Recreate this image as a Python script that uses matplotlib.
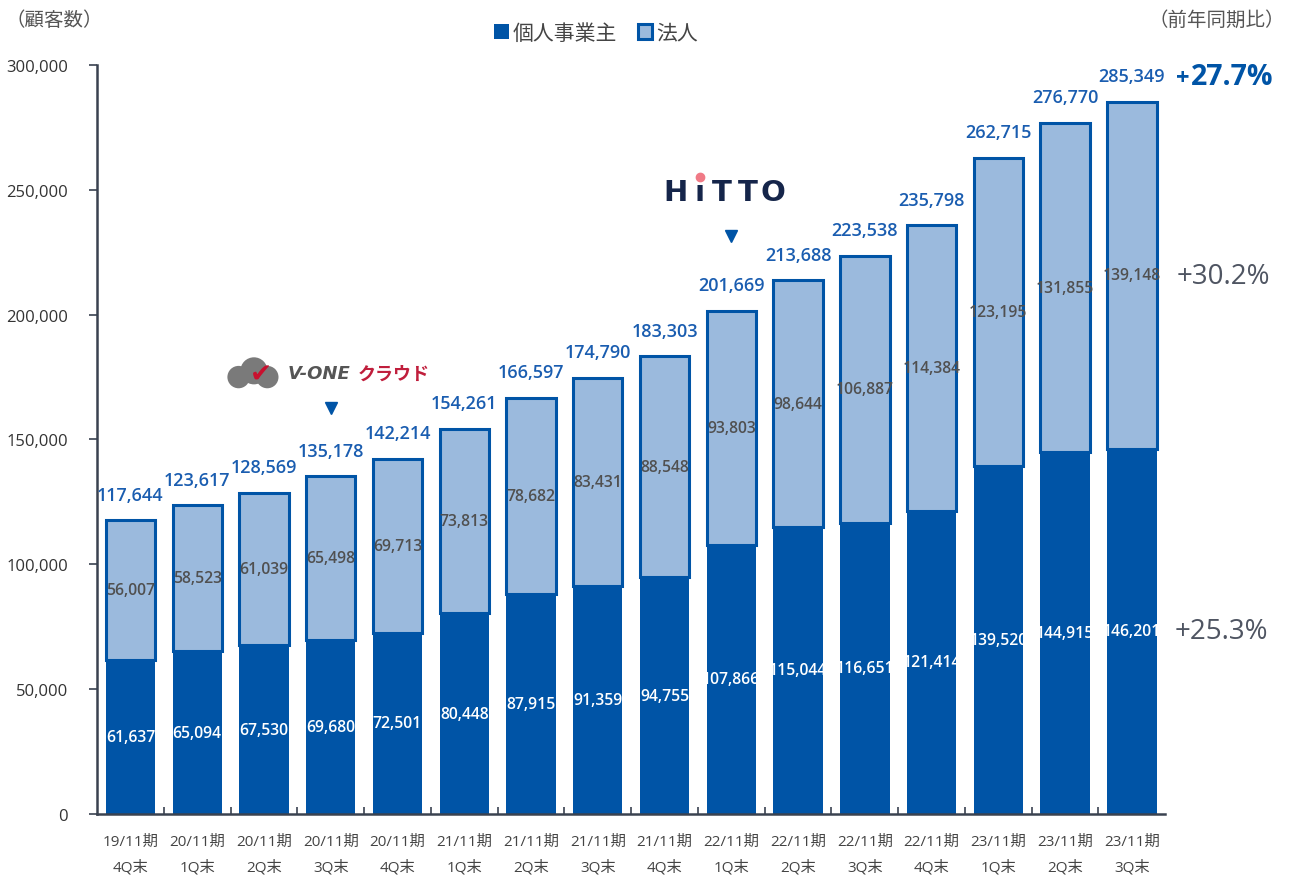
import matplotlib
matplotlib.use('Agg')
import matplotlib.pyplot as plt
import numpy as np

plt.rcParams['font.family'] = ['Open Sans', 'Noto Sans CJK JP', 'DejaVu Sans']

# data
periods = ['19/11期\n4Q末', '20/11期\n1Q末', '20/11期\n2Q末', '20/11期\n3Q末',
           '20/11期\n4Q末', '21/11期\n1Q末', '21/11期\n2Q末', '21/11期\n3Q末',
           '21/11期\n4Q末', '22/11期\n1Q末', '22/11期\n2Q末', '22/11期\n3Q末',
           '22/11期\n4Q末', '23/11期\n1Q末', '23/11期\n2Q末', '23/11期\n3Q末']
kojin = [61637, 65094, 67530, 69680, 72501, 80448, 87915, 91359,
         94755, 107866, 115044, 116651, 121414, 139520, 144915, 146201]
houjin = [56007, 58523, 61039, 65498, 69713, 73813, 78682, 83431,
          88548, 93803, 98644, 106887, 114384, 123195, 131855, 139148]
totals = [117644, 123617, 128569, 135178, 142214, 154261, 166597, 174790,
          183303, 201669, 213688, 223538, 235798, 262715, 276770, 285349]
yoy_total = '+27.7%'
yoy_houjin = '+30.2%'
yoy_kojin = '+25.3%'

dark = '#0054A6'
light = '#9BBADD'
label_blue = '#1A5DB0'
gray = '#4F5562'
axis_col = '#3a4250'

fig = plt.figure(figsize=(12.89, 8.78), dpi=100)
ax = fig.add_axes([0.0753, 0.0718, 0.8287, 0.853])

x = np.arange(len(periods))
w = 0.74
ax.bar(x, kojin, w, color=dark, edgecolor=dark, linewidth=0, label='個人事業主')
ax.bar(x, houjin, w, bottom=kojin, color=light, edgecolor=dark, linewidth=2.2, label='法人')

for i in range(len(x)):
    ax.text(x[i], kojin[i] / 2, f'{kojin[i]:,}', ha='center', va='center',
            color='white', fontsize=11.3, fontweight='semibold')
    ax.text(x[i], kojin[i] + houjin[i] / 2, f'{houjin[i]:,}', ha='center', va='center',
            color='#505050', fontsize=11.3, fontweight='semibold')
    ax.annotate(f'{totals[i]:,}', (x[i], totals[i]), xytext=(0, 12),
                textcoords='offset points', ha='center', va='bottom',
                color=label_blue, fontsize=13, fontweight='semibold')

ax.set_xlim(-0.5, len(x) - 0.5)
ax.set_ylim(0, 300000)
ax.set_yticks(np.arange(0, 300001, 50000))
ax.set_yticklabels([f'{v:,}' for v in range(0, 300001, 50000)], fontsize=12, color='#333333')
ax.set_xticks(x)
ax.set_xticklabels(periods, fontsize=11, color='#444444', linespacing=1.95)
ax.set_xticks(x[:-1] + 0.5, minor=True)
ax.tick_params(axis='x', which='major', length=0, pad=14)
ax.tick_params(axis='x', which='minor', length=5, direction='in', color=axis_col, width=1.2)
ax.tick_params(axis='y', length=6, color=axis_col, width=1.2, pad=15)

for s in ['top', 'right']:
    ax.spines[s].set_visible(False)
for s in ['left', 'bottom']:
    ax.spines[s].set_color(axis_col)
    ax.spines[s].set_linewidth(1.8)

leg = fig.legend(loc='center', bbox_to_anchor=(0.4625, 0.961), ncol=2, frameon=False,
                 fontsize=15, handlelength=0.7, handleheight=0.8, handletextpad=0.2,
                 columnspacing=1.0)
for t in leg.get_texts():
    t.set_color('#444444')

fig.text(0.004, 0.977, '（顧客数）', fontsize=14, color='#555555', va='center', ha='left')
fig.text(0.997, 0.977, '（前年同期比）', fontsize=14, color='#555555', va='center', ha='right')

# year-on-year figures on the right
fig.text(0.912, 0.910, '+', fontsize=17, color=dark, fontweight='bold', va='center')
fig.text(0.924, 0.912, yoy_total[1:], fontsize=20.5, color=dark, fontweight='bold', va='center')
fig.text(0.913, 0.6845, yoy_houjin, fontsize=20, color=gray, va='center')
fig.text(0.911, 0.280, yoy_kojin, fontsize=20, color=gray, va='center')

# service launch markers
ax.plot([3, 9], [162500, 231500], marker='v', linestyle='none', color=dark, markersize=9)

# V-ONE クラウド logo
ax.scatter([1.62, 1.85, 2.05], [175000, 177500, 175000], s=[260, 380, 260],
           color='#7a7a7a', zorder=3, linewidths=0)
ax.text(1.95, 176200, '✔', fontsize=19, color='#C8102E', ha='center', va='center',
        family=['DejaVu Sans'], zorder=4)
ax.text(2.83, 176500, 'V-ONE', fontsize=13, color='#555555', fontweight='bold',
        fontstyle='italic', ha='center', va='center', family=['DejaVu Sans'])
ax.text(3.94, 176500, 'クラウド', fontsize=13, color='#C01E3C', fontweight='bold',
        ha='center', va='center', family=['Noto Sans CJK JP'])

# HiTTO logo
for ch, xc in zip(['H', 'ı', 'T', 'T', 'O'], [8.17, 8.53, 8.86, 9.24, 9.62]):
    ax.text(xc, 249000, ch, fontsize=21, color='#15254A', fontweight='bold',
            ha='center', va='center', family=['DejaVu Sans'])
ax.plot([8.53], [255300], marker='o', color='#F07A86', markersize=6, linestyle='none')

fig.savefig('out.png', dpi=100)
